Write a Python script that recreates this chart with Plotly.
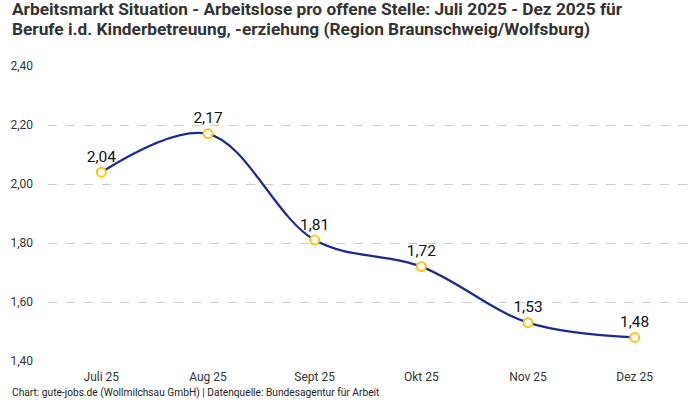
import plotly.graph_objects as go

months = ["Juli 25", "Aug 25", "Sept 25", "Okt 25", "Nov 25", "Dez 25"]
values = [2.04, 2.17, 1.81, 1.72, 1.53, 1.48]
y_ticks = [1.4, 1.6, 1.8, 2.0, 2.2, 2.4]
y_tick_labels = ["1,40", "1,60", "1,80", "2,00", "2,20", "2,40"]
point_labels = [f"{v:.2f}".replace(".", ",") for v in values]

title_line1 = "Arbeitsmarkt Situation - Arbeitslose pro offene Stelle: Juli 2025 - Dez 2025 für"
title_line2 = "Berufe i.d. Kinderbetreuung, -erziehung (Region Braunschweig/Wolfsburg)"
source_text = "Chart: gute-jobs.de (Wollmilchsau GmbH) | Datenquelle: Bundesagentur für Arbeit"

FONT = "Roboto"
W, H = 700, 400
ML, MR, MT, MB = 48, 12, 66, 39
PW, PH = W - ML - MR, H - MT - MB


def px_x(x):
    return (x - ML) / PW


def px_y(y):
    return (H - MB - y) / PH


fig = go.Figure()
fig.add_trace(go.Scatter(
    x=months, y=values,
    mode="lines+markers+text",
    line=dict(color="#1c2b8c", width=2.2, shape="spline", smoothing=1.0),
    marker=dict(size=9, color="white", line=dict(color="#FFC21A", width=2)),
    text=point_labels, textposition="top center",
    textfont=dict(family=FONT, size=15.5, color="#111111"),
    cliponaxis=False,
    hoverinfo="skip",
))

fig.update_layout(
    width=W, height=H,
    margin=dict(l=ML, r=MR, t=MT, b=MB, autoexpand=False),
    paper_bgcolor="white", plot_bgcolor="white",
    showlegend=False,
    font=dict(family=FONT, size=11, color="#333333"),
    xaxis=dict(range=[-0.5, 5.5], showgrid=False, showline=False, zeroline=False, ticks="",
               ticklabelstandoff=7,
               tickfont=dict(family=FONT, size=12, color="#333333")),
    yaxis=dict(range=[1.4, 2.4], tickvals=y_ticks, ticktext=y_tick_labels,
               showgrid=True, gridcolor="#cccccc", griddash="dash", gridwidth=1,
               zeroline=False, showline=False, ticks="", ticklabelstandoff=14,
               tickfont=dict(family=FONT, size=12, color="#333333")),
    annotations=[
        dict(text="<b>" + title_line1 + "</b>", xref="paper", yref="paper",
             x=px_x(10), y=px_y(9), xanchor="left", yanchor="middle", showarrow=False,
             font=dict(family=FONT, size=17.3, color="#333333")),
        dict(text="<b>" + title_line2 + "</b>", xref="paper", yref="paper",
             x=px_x(10), y=px_y(29), xanchor="left", yanchor="middle", showarrow=False,
             font=dict(family=FONT, size=17.3, color="#333333")),
        dict(text=source_text, xref="paper", yref="paper",
             x=px_x(10), y=px_y(393), xanchor="left", yanchor="middle", showarrow=False,
             font=dict(family=FONT, size=10.2, color="#222222")),
    ],
)

fig.write_html("out.html", config={"displayModeBar": False},
               post_script="document.body.style.margin='0';")
